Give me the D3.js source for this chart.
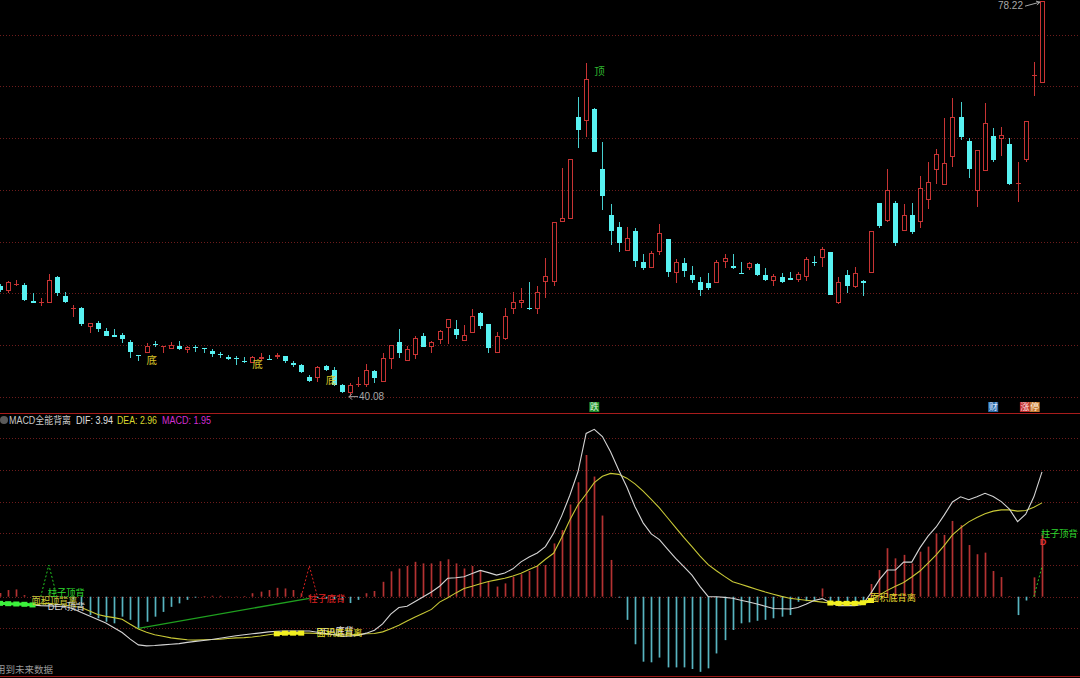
<!DOCTYPE html>
<html><head><meta charset="utf-8">
<script src="https://cdn.jsdelivr.net/npm/d3@7"></script>
<style>
html,body{margin:0;padding:0;background:#000;overflow:hidden;}
svg{display:block;}
text{font-family:"Liberation Sans","Noto Sans CJK SC",sans-serif;}
</style></head><body>
<svg id="c" width="1080" height="678"></svg>
<script>
// ---------- price data (one entry per trading day) ----------
const opens  = [50.72,50.26,50.83,50.81,49.27,49.10,49.10,51.56,49.75,48.53,48.62,46.79,47.12,46.40,46.02,45.96,45.34,44.08,44.28,45.15,44.80,44.61,44.92,44.54,44.86,44.73,44.41,44.15,43.86,43.79,43.50,43.31,43.70,43.70,43.89,43.99,43.31,43.09,41.96,41.81,42.96,42.61,41.16,40.39,41.20,41.16,42.51,41.45,43.67,45.34,43.50,44.06,45.86,44.86,45.50,46.69,46.54,45.41,46.15,48.08,47.05,44.25,45.63,48.47,49.05,48.56,48.53,51.13,51.13,56.93,57.19,67.00,66.68,67.78,62.01,57.57,56.38,54.13,56.03,53.06,52.48,53.97,55.25,51.94,52.91,51.78,51.13,51.04,50.98,53.01,52.65,52.00,52.43,52.81,51.75,51.23,51.61,51.46,51.30,51.61,53.03,53.39,53.97,49.05,51.75,50.59,51.20,51.94,58.70,56.96,58.70,56.00,57.57,56.93,58.99,61.89,60.47,63.14,67.00,64.69,59.92,61.79,65.17,64.88,64.46,60.54,62.88,70.96,70.29];
const highs  = [50.91,51.20,51.30,51.04,50.01,49.59,51.85,51.68,50.11,48.88,48.72,47.14,47.34,46.63,46.54,46.15,45.50,44.08,45.18,45.44,44.90,45.31,45.44,44.92,45.02,44.73,44.61,44.37,44.03,43.96,43.89,43.96,44.28,44.03,44.22,43.99,43.50,43.19,42.12,42.99,43.09,42.93,41.26,41.32,41.90,43.16,42.61,44.22,45.02,46.54,44.92,45.89,46.15,45.44,46.47,47.50,47.43,46.95,48.47,48.24,47.05,46.30,48.62,50.14,50.50,51.13,50.72,53.45,56.87,62.08,62.98,68.94,72.22,67.87,64.65,58.61,56.87,56.44,56.29,53.78,54.13,56.70,55.25,53.32,53.39,52.65,51.61,51.94,53.23,53.81,53.78,53.06,53.06,52.91,52.43,51.88,52.00,52.10,52.10,53.55,53.61,54.51,53.97,51.61,52.26,52.52,51.30,56.06,58.76,61.98,58.92,58.61,58.70,61.37,62.66,63.94,66.91,68.84,68.51,64.98,63.88,68.36,65.94,66.04,64.98,62.66,66.68,72.37,78.22];
const lows   = [50.14,50.01,50.72,49.27,49.03,48.79,49.08,49.78,49.05,47.75,46.86,46.21,46.25,45.89,45.76,45.24,43.74,43.45,44.28,44.86,44.28,44.61,44.54,44.28,44.34,44.28,43.83,43.74,43.57,43.09,43.25,43.25,43.57,43.57,43.64,43.31,42.87,42.32,41.48,41.48,42.54,41.06,40.43,40.08,40.99,40.94,41.32,41.45,42.73,43.79,43.50,43.70,44.83,44.22,45.12,45.12,45.57,45.41,46.15,46.54,44.22,44.25,45.50,47.98,48.56,48.40,47.98,49.59,50.75,56.87,57.19,64.01,65.07,63.68,58.05,54.68,54.03,54.13,52.58,52.26,52.48,53.71,51.61,50.98,51.61,51.04,49.78,50.33,50.98,52.48,52.33,51.88,52.26,51.68,51.23,50.75,50.98,51.30,51.13,51.20,52.68,52.58,49.88,48.98,50.01,50.50,49.78,51.94,56.29,56.87,54.61,56.00,55.74,56.35,58.12,60.54,60.47,62.24,64.81,61.12,58.32,61.79,62.72,63.30,60.47,58.80,62.66,69.06,70.29];
const closes = [50.33,51.07,50.89,49.37,49.05,49.17,51.30,50.01,49.20,48.59,47.05,47.12,46.57,45.92,45.82,45.57,44.34,43.96,44.92,45.05,44.90,45.02,44.66,44.83,44.76,44.61,44.12,44.03,43.64,43.70,43.38,43.83,43.83,43.60,44.03,43.48,43.12,42.38,41.57,42.87,42.61,41.16,40.51,41.16,41.24,42.61,41.86,43.74,45.02,44.28,44.63,45.70,44.83,45.31,46.37,47.50,45.96,45.99,47.85,46.86,44.76,45.92,47.85,49.17,49.37,48.47,50.11,51.68,56.87,57.25,62.98,65.78,70.70,63.68,59.41,56.06,54.90,55.32,53.16,52.43,53.93,55.86,52.04,53.01,52.17,51.30,50.33,50.50,53.01,53.39,52.48,51.88,52.91,51.78,51.30,51.68,51.07,51.30,51.88,53.32,52.91,54.26,49.88,51.07,50.75,52.00,51.04,56.06,56.54,59.96,54.87,57.54,55.90,60.15,60.79,63.43,62.62,67.00,65.13,62.01,63.88,66.48,62.88,65.33,60.57,60.66,66.68,71.09,78.22];

// ---------- MACD indicator ----------
const difVals  = [-0.20,-0.22,-0.23,-0.25,-0.26,-0.28,-0.29,-0.30,-0.31,-0.38,-0.50,-0.61,-0.72,-0.83,-0.98,-1.13,-1.34,-1.52,-1.55,-1.54,-1.52,-1.50,-1.48,-1.44,-1.41,-1.38,-1.35,-1.31,-1.27,-1.23,-1.20,-1.17,-1.14,-1.11,-1.09,-1.08,-1.08,-1.08,-1.08,-1.12,-1.16,-1.20,-1.25,-1.24,-1.22,-1.15,-1.06,-0.86,-0.55,-0.34,-0.30,-0.15,0.00,0.15,0.33,0.58,0.60,0.63,0.73,0.83,0.76,0.68,0.75,0.88,1.10,1.25,1.38,1.58,2.00,2.55,3.20,3.94,5.15,5.28,5.05,4.57,4.00,3.46,2.84,2.33,1.98,1.80,1.50,1.21,0.95,0.68,0.32,0.00,0.00,-0.02,-0.05,-0.11,-0.17,-0.23,-0.30,-0.37,-0.38,-0.39,-0.34,-0.24,-0.12,-0.06,-0.19,-0.28,-0.28,-0.28,-0.24,0.12,0.53,0.84,0.84,1.09,1.09,1.54,1.91,2.20,2.58,2.99,3.15,3.06,3.15,3.26,3.16,3.00,2.76,2.37,2.60,3.15,3.94];
const deaVals  = [-0.21,-0.22,-0.23,-0.24,-0.26,-0.22,-0.21,-0.24,-0.27,-0.30,-0.34,-0.45,-0.56,-0.62,-0.66,-0.71,-0.87,-1.02,-1.12,-1.20,-1.25,-1.30,-1.33,-1.36,-1.37,-1.36,-1.35,-1.34,-1.32,-1.30,-1.29,-1.27,-1.24,-1.20,-1.17,-1.15,-1.15,-1.15,-1.15,-1.16,-1.18,-1.19,-1.21,-1.20,-1.19,-1.17,-1.16,-1.11,-1.01,-0.90,-0.77,-0.64,-0.52,-0.40,-0.17,-0.03,0.12,0.26,0.33,0.41,0.48,0.53,0.58,0.65,0.74,0.86,0.97,1.18,1.37,1.87,2.42,2.90,3.24,3.60,3.80,3.89,3.86,3.74,3.56,3.33,3.07,2.80,2.49,2.18,1.87,1.58,1.28,1.01,0.82,0.64,0.47,0.39,0.31,0.23,0.15,0.08,0.01,-0.05,-0.08,-0.11,-0.14,-0.17,-0.20,-0.21,-0.21,-0.21,-0.19,-0.12,0.05,0.20,0.33,0.45,0.62,0.81,1.06,1.32,1.62,1.95,2.17,2.36,2.50,2.62,2.70,2.74,2.74,2.70,2.72,2.82,2.96];
const macdVals = [0.12,0.21,0.23,0.05,0.03,0.02,0.04,0.02,-0.02,-0.10,-0.30,-0.58,-0.68,-0.79,-0.84,-0.63,-0.73,-0.99,-0.79,-0.63,-0.48,-0.32,-0.21,-0.10,-0.03,0.02,0.03,0.03,0.01,0.01,0.02,0.11,0.16,0.21,0.28,0.26,0.21,0.11,0.05,-0.04,-0.06,-0.08,-0.12,-0.20,-0.10,0.11,0.18,0.47,0.80,0.89,0.97,1.10,1.05,1.05,1.12,1.18,1.05,0.89,0.97,0.81,0.47,0.32,0.42,0.63,0.71,0.81,0.97,1.00,1.68,2.10,2.91,3.61,4.47,3.79,2.56,1.16,-0.03,-0.73,-1.50,-2.05,-2.07,-1.92,-2.23,-2.23,-2.23,-2.28,-2.37,-2.26,-1.79,-1.37,-1.05,-0.84,-0.81,-0.76,-0.73,-0.68,-0.63,-0.58,-0.16,-0.14,-0.10,0.26,-0.16,-0.21,-0.19,-0.16,-0.18,0.40,0.84,1.53,1.21,1.32,1.05,1.42,1.58,2.00,1.95,2.39,2.26,1.63,1.34,1.39,0.81,0.62,0.02,-0.58,-0.12,0.61,1.95];

// ---------- ticks ----------
const priceTicks = [40,45,50,55,60,65,70,75];
const macdTicks  = [-1,0,1,2,3,4,5];

// ---------- annotations (anchored on day index and value) ----------
const priceNotes = [
  {t:"底", i:18, p:43.57, c:"#d8c428"},
  {t:"底", i:31, p:43.14, c:"#d8c428"},
  {t:"底", i:40, p:41.64, c:"#d8c428"},
  {t:"顶", i:73, p:71.48, c:"#2fb82f"}
];
const tiles = [
  {t:"跌", i:73,    bg:"#1e8a2a", fg:"#d8f8d8"},
  {t:"财", i:122,   bg:"#2d6aa6", fg:"#dce8ff"},
  {t:"涨", i:125.9, bg:"#c02a2a", fg:"#ffe0e0"},
  {t:"停", i:127.1, bg:"#c47a34", fg:"#fff0dc"}
];
const macdNotes = [
  {t:"面积顶背离", i:4,   v:-0.14, c:"#c8cc3a"},
  {t:"柱子顶背",   i:6,   v:0.12,  c:"#2ed82e"},
  {t:"DEA顶背",    i:6,   v:-0.33, c:"#d8d8d8"},
  {t:"柱子底背",   i:38,  v:-0.06, c:"#e02424"},
  {t:"DEA底背",    i:39,  v:-1.08, c:"#e0e0e0"},
  {t:"面积底背离", i:39,  v:-1.12, c:"#e8e030"},
  {t:"面积底背离", i:107, v:-0.03, c:"#e8d830"},
  {t:"柱子顶背",   i:128, v:1.98,  c:"#2ed82e"}
];
const headerLabels = ["MACD全能背离", "DIF: ", "DEA: ", "MACD: "];
const areaTopIdx  = [0,1,2,3,4];
const areaBot1Idx = [34,35,36,37];
const areaBot2Idx = [102,103,104,105,106,107];
const barTopTri   = [[5,0],[6,1.0],[7,0]];
const barBotTri   = [[37,0],[38,0.97],[39,0]];
const barTopTri2  = [[127,0],[128,0.95]];
const deaDivLine  = [[17,-1.0],[38,-0.05]];

// ---------- drawing ----------
const svg = d3.select("#c");
const W = 1080;
const n = opens.length;
const x  = d3.scaleLinear().domain([0, n-1]).range([0, 1042]);
const yP = d3.scaleLinear().domain([40, 75]).range([397, 34.5]);
const yM = d3.scaleLinear().domain([-1, 5]).range([628.4, 438.2]);

const RED = "#c83434", CYAN = "#58f2f2", CYANW = "#46d0d0";
const GRID = "#6e1c1c";

svg.append("rect").attr("width",W).attr("height",678).attr("fill","#000");

// grids
svg.append("g").selectAll("line").data(priceTicks).join("line")
  .attr("x1",0).attr("x2",W)
  .attr("y1",d=>Math.round(yP(d))+0.5).attr("y2",d=>Math.round(yP(d))+0.5)
  .attr("stroke",GRID).attr("stroke-dasharray","1,2");
svg.append("g").selectAll("line").data(macdTicks).join("line")
  .attr("x1",0).attr("x2",W)
  .attr("y1",d=>Math.round(yM(d))+0.5).attr("y2",d=>Math.round(yM(d))+0.5)
  .attr("stroke",GRID).attr("stroke-dasharray","1,2");

// separators
svg.append("line").attr("x1",0).attr("x2",W).attr("y1",413.5).attr("y2",413.5).attr("stroke","#a81c1c");
svg.append("line").attr("x1",0).attr("x2",W).attr("y1",676.5).attr("y2",676.5).attr("stroke","#981818");

// candles
const idx = d3.range(n);
const cg = svg.append("g").attr("shape-rendering","crispEdges");
idx.forEach(i=>{
  const o=opens[i], c=closes[i], h=highs[i], l=lows[i];
  const r = Math.round(x(i));
  const cx = r + 0.5;
  const up = c >= o;
  const top = Math.round(yP(Math.max(o,c)));
  const bot = Math.round(yP(Math.min(o,c)));
  const hy = Math.round(yP(h)), ly = Math.round(yP(l));
  if (up) {
    if (hy < top) cg.append("line").attr("x1",cx).attr("x2",cx).attr("y1",hy).attr("y2",top).attr("stroke",RED);
    if (ly > bot) cg.append("line").attr("x1",cx).attr("x2",cx).attr("y1",bot).attr("y2",ly).attr("stroke",RED);
    if (bot - top < 2) {
      cg.append("rect").attr("x",r-2).attr("y",top).attr("width",5).attr("height",Math.max(1,bot-top)).attr("fill",RED);
    } else {
      cg.append("rect").attr("x",r-1.5).attr("y",top+0.5).attr("width",4).attr("height",bot-top-1)
        .attr("fill","#000").attr("stroke",RED);
    }
  } else {
    cg.append("line").attr("x1",cx).attr("x2",cx).attr("y1",hy).attr("y2",ly).attr("stroke",CYANW);
    cg.append("rect").attr("x",r-2).attr("y",top).attr("width",5).attr("height",Math.max(1,bot-top)).attr("fill",CYAN);
  }
});

// price notes
svg.append("g").selectAll("text").data(priceNotes).join("text")
  .attr("x",d=>x(d.i)).attr("y",d=>yP(d.p)).attr("dy","0.36em")
  .attr("fill",d=>d.c).attr("font-size",10.5).text(d=>d.t);

// max / min labels
const maxI = d3.maxIndex(highs), minI = d3.minIndex(lows);
const mx = x(maxI), my = yP(highs[maxI]);
svg.append("text").attr("x",mx-19).attr("y",my+4).attr("dy","0.36em").attr("text-anchor","end")
  .attr("fill","#a8a8a8").attr("font-size",10).text(d3.format(".2f")(highs[maxI]));
svg.append("path").attr("d",`M${mx-17},${my+5} L${mx-2},${my+1} M${mx-2},${my+1} l-4,-1 M${mx-2},${my+1} l-3,3`)
  .attr("stroke","#a8a8a8").attr("fill","none");
const lx = x(minI), ly0 = yP(lows[minI]);
svg.append("path").attr("d",`M${lx-1},${ly0+0.5} H${lx+8} M${lx-1},${ly0+0.5} l3,-3 M${lx-1},${ly0+0.5} l3,3`)
  .attr("stroke","#a8a8a8").attr("fill","none");
svg.append("text").attr("x",lx+9).attr("y",ly0+0.5).attr("dy","0.36em")
  .attr("fill","#a8a8a8").attr("font-size",10).text(d3.format(".2f")(lows[minI]));

// bottom tiles
const tg = svg.append("g");
tiles.forEach(d=>{
  tg.append("rect").attr("x",x(d.i)-5).attr("y",402).attr("width",10).attr("height",10).attr("fill",d.bg);
  tg.append("text").attr("x",x(d.i)).attr("y",407).attr("dy","0.36em").attr("text-anchor","middle")
    .attr("fill",d.fg).attr("font-size",9).text(d.t);
});

// header (widths fitted to the reference layout)
const last = n-1;
svg.append("circle").attr("cx",4).attr("cy",420).attr("r",4).attr("fill","#5a5a5a");
const hdrItems = [
  {t:headerLabels[0], x:9,   w:62, c:"#c8c8c8"},
  {t:headerLabels[1]+difVals[last].toFixed(2),  x:76,  w:37, c:"#e0e0e0"},
  {t:headerLabels[2]+deaVals[last].toFixed(2),  x:117, w:40, c:"#d8d82e"},
  {t:headerLabels[3]+macdVals[last].toFixed(2), x:162, w:49, c:"#d22ed2"}
];
svg.append("g").selectAll("text").data(hdrItems).join("text")
  .attr("x",d=>d.x).attr("y",420).attr("dy","0.36em").attr("font-size",10)
  .attr("textLength",d=>d.w).attr("lengthAdjust","spacingAndGlyphs")
  .attr("fill",d=>d.c).text(d=>d.t);

// histogram
svg.append("g").selectAll("line").data(idx).join("line")
  .attr("x1",i=>Math.round(x(i))+0.5).attr("x2",i=>Math.round(x(i))+0.5)
  .attr("y1",yM(0)).attr("y2",i=>yM(macdVals[i]))
  .attr("stroke",i=>macdVals[i]>=0?"#b43232":"#58b4c0").attr("stroke-width",1.7);

// dashed triangles and divergence line
const lineM = d3.line().x(d=>x(d[0])).y(d=>yM(d[1]));
svg.append("path").attr("d",lineM(barTopTri)).attr("stroke","#22c822").attr("fill","none").attr("stroke-dasharray","2,2");
svg.append("path").attr("d",lineM(barBotTri)).attr("stroke","#d82020").attr("fill","none").attr("stroke-dasharray","2,2");
svg.append("path").attr("d",lineM(barTopTri2)).attr("stroke","#22c822").attr("fill","none").attr("stroke-dasharray","2,2");
svg.append("path").attr("d",lineM(deaDivLine)).attr("stroke","#1fa01f").attr("stroke-width",1.3).attr("fill","none");

// DIF / DEA lines
const lineV = d3.line().x((d,i)=>x(i)).y(d=>yM(d));
svg.append("path").attr("d",lineV(deaVals)).attr("stroke","#c8c836").attr("stroke-width",1.1).attr("fill","none");
svg.append("path").attr("d",lineV(difVals)).attr("stroke","#d4d4d4").attr("stroke-width",1.1).attr("fill","none");

// area divergence markers
function areaMarks(list, color){
  const g = svg.append("g");
  g.append("path").attr("d",d3.line().x(i=>x(i)).y(i=>yM(deaVals[i]))(list))
    .attr("stroke",color).attr("stroke-width",3).attr("fill","none");
  g.selectAll("rect").data(list).join("rect")
    .attr("x",i=>x(i)-3).attr("y",i=>yM(deaVals[i])-2.5).attr("width",6).attr("height",5).attr("fill",color);
}
areaMarks(areaTopIdx, "#3cf03c");
areaMarks(areaBot1Idx, "#f2f020");
areaMarks(areaBot2Idx, "#f2f020");

// macd notes
svg.append("g").selectAll("text").data(macdNotes).join("text")
  .attr("x",d=>x(d.i)-1).attr("y",d=>yM(d.v)).attr("dy","0.36em")
  .attr("fill",d=>d.c).attr("font-size",9.2).text(d=>d.t);
svg.append("text").attr("x",x(last)+1).attr("y",yM(1.74)).attr("dy","0.36em").attr("text-anchor","middle")
  .attr("fill","#e03030").attr("font-size",9).attr("font-weight","bold").text("D");

// footer
svg.append("text").attr("x",-4).attr("y",670).attr("dy","0.36em").attr("fill","#9a9a9a").attr("font-size",9.5).text("用到未来数据");
</script>
</body></html>
